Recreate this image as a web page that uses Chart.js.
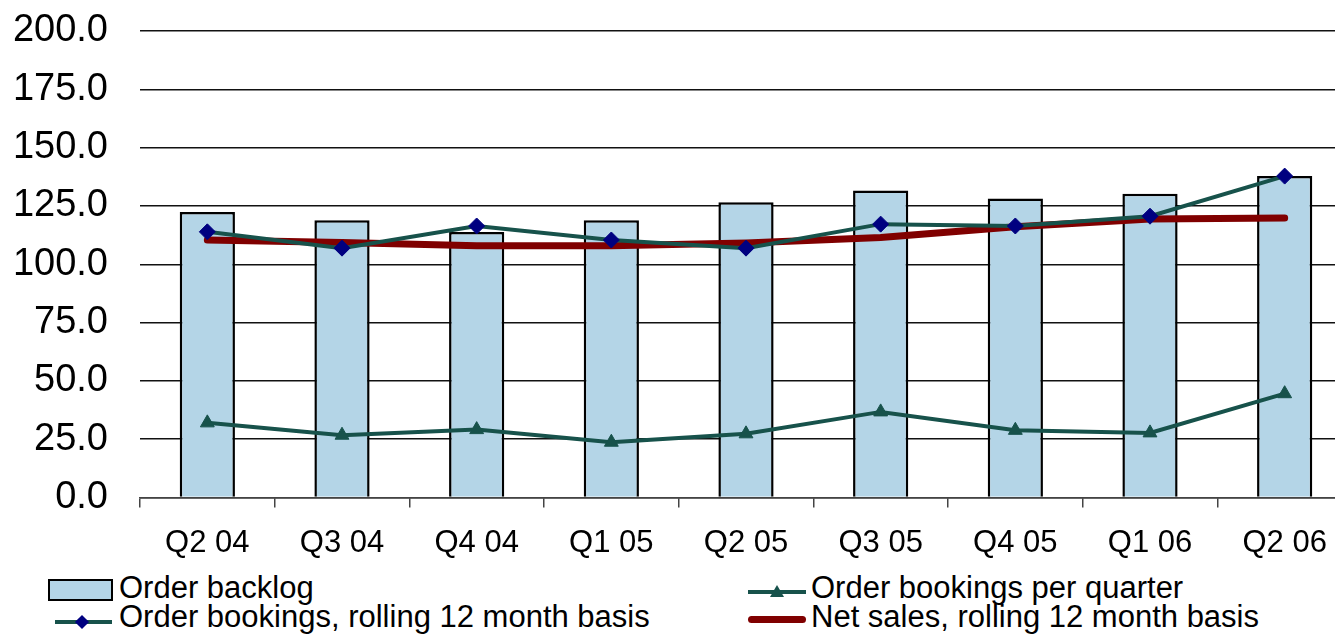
<!DOCTYPE html>
<html>
<head>
<meta charset="utf-8">
<script src="https://cdn.jsdelivr.net/npm/chart.js@4.4.1/dist/chart.umd.min.js"></script>
<style>
  html, body { margin: 0; padding: 0; background: #fff; overflow: hidden; width: 1335px; height: 636px; }
  #wrap { position: relative; width: 1335px; height: 636px; overflow: hidden; }
  #c { position: absolute; left: 0; top: 0; }
  .lg-text { position: absolute; font-family: "Liberation Sans", Arial, sans-serif; font-size: 31px; line-height: 31px; color: #000; white-space: nowrap; }
  .sw { position: absolute; box-sizing: border-box; }
</style>
</head>
<body>
<div id="wrap">
  <canvas id="c" width="1361" height="570"></canvas>
  <div id="legend"></div>
</div>
<script>
// Quarterly figures
const categories = ['Q2 04', 'Q3 04', 'Q4 04', 'Q1 05', 'Q2 05', 'Q3 05', 'Q4 05', 'Q1 06', 'Q2 06'];
const orderBacklog = [122.4, 118.9, 113.8, 118.9, 126.6, 131.6, 128.2, 130.2, 137.8];
const bookingsPerQuarter = [32.0, 26.7, 29.1, 23.7, 27.3, 36.7, 28.8, 27.7, 44.5];
const bookingsRolling = [113.9, 106.9, 116.4, 110.4, 106.9, 117.2, 116.4, 120.6, 137.8];
const netSalesRolling = [110.4, 109.3, 107.9, 107.9, 109.1, 111.5, 116.1, 119.4, 119.8];
const yTicks = [0, 25, 50, 75, 100, 125, 150, 175, 200];
const seriesNames = [
  'Order backlog',
  'Order bookings per quarter',
  'Order bookings, rolling 12 month basis',
  'Net sales, rolling 12 month basis'
];

const TEAL = '#17524B';
const NAVY = '#000080';
const RED = '#800000';
const BAR_FILL = '#B4D5E7';
const FONT = '"Liberation Sans", Arial, sans-serif';

new Chart(document.getElementById('c'), {
  type: 'bar',
  data: {
    labels: categories,
    datasets: [
      {
        type: 'bar',
        label: seriesNames[0],
        data: orderBacklog,
        backgroundColor: BAR_FILL,
        borderColor: '#000',
        borderWidth: 2.5,
        barPercentage: 0.41,
        categoryPercentage: 1.0,
        order: 4
      },
      {
        type: 'line',
        label: seriesNames[3],
        data: netSalesRolling,
        borderColor: RED,
        borderWidth: 7,
        borderCapStyle: 'round',
        borderJoinStyle: 'round',
        pointRadius: 0,
        tension: 0,
        fill: false,
        order: 3
      },
      {
        type: 'line',
        label: seriesNames[1],
        data: bookingsPerQuarter,
        borderColor: TEAL,
        borderWidth: 4,
        pointStyle: 'triangle',
        pointRadius: 8,
        pointBackgroundColor: TEAL,
        pointBorderColor: TEAL,
        pointBorderWidth: 1,
        tension: 0,
        fill: false,
        order: 2
      },
      {
        type: 'line',
        label: seriesNames[2],
        data: bookingsRolling,
        borderColor: TEAL,
        borderWidth: 4,
        pointStyle: 'rectRot',
        pointRadius: 8,
        pointBackgroundColor: NAVY,
        pointBorderColor: NAVY,
        pointBorderWidth: 1,
        tension: 0,
        fill: false,
        order: 1
      }
    ]
  },
  options: {
    responsive: false,
    animation: false,
    devicePixelRatio: 1,
    layout: { padding: { top: 31, right: 0, bottom: 0, left: 0 } },
    plugins: {
      legend: { display: false },
      tooltip: { enabled: false }
    },
    scales: {
      x: {
        type: 'category',
        offset: true,
        afterFit: (scale) => { scale.height = 72.5; },
        border: { display: true, color: '#444', width: 1.5 },
        grid: {
          display: true,
          offset: true,
          drawOnChartArea: false,
          drawTicks: true,
          tickLength: 10,
          color: '#444',
          lineWidth: 1.5
        },
        ticks: {
          color: '#000',
          padding: 17,
          maxRotation: 0,
          autoSkip: false,
          font: { family: FONT, size: 31 }
        }
      },
      y: {
        min: 0,
        max: 200,
        afterFit: (scale) => {
          scale.width = 140;
          scale.paddingTop = 0;
          scale.paddingBottom = 0;
        },
        afterBuildTicks: (scale) => { scale.ticks = yTicks.map(v => ({ value: v })); },
        border: { display: false },
        grid: {
          color: '#111',
          lineWidth: 1.4,
          drawTicks: false
        },
        ticks: {
          color: '#000',
          padding: 32,
          font: { family: FONT, size: 38 },
          callback: (v) => Number(v).toFixed(1)
        }
      }
    }
  }
});

// Two-column legend below the plot
const legend = document.getElementById('legend');
function el(cls, css, text) {
  const d = document.createElement('div');
  d.className = cls;
  Object.assign(d.style, css);
  if (text !== undefined) d.textContent = text;
  legend.appendChild(d);
  return d;
}

// Order backlog: filled box
el('sw', { left: '48px', top: '579px', width: '65px', height: '22px', background: BAR_FILL, border: '2px solid #000' });
el('lg-text', { left: '119px', top: '572px' }, seriesNames[0]);

// Order bookings per quarter: line with triangle
el('sw', { left: '748px', top: '589.5px', width: '58px', height: '4px', background: TEAL });
el('sw', { left: '770px', top: '585px', width: '0', height: '0',
  borderLeft: '7px solid transparent', borderRight: '7px solid transparent', borderBottom: '12px solid ' + TEAL });
el('lg-text', { left: '811px', top: '572px' }, seriesNames[1]);

// Order bookings, rolling: line with diamond
el('sw', { left: '55px', top: '619.5px', width: '57px', height: '4px', background: TEAL });
el('sw', { left: '77px', top: '616.5px', width: '10px', height: '10px', background: NAVY, transform: 'rotate(45deg)' });
el('lg-text', { left: '119px', top: '601px' }, seriesNames[2]);

// Net sales, rolling: thick red line
el('sw', { left: '748px', top: '616px', width: '58px', height: '7px', background: RED, borderRadius: '3.5px' });
el('lg-text', { left: '811px', top: '601px' }, seriesNames[3]);
</script>
</body>
</html>
